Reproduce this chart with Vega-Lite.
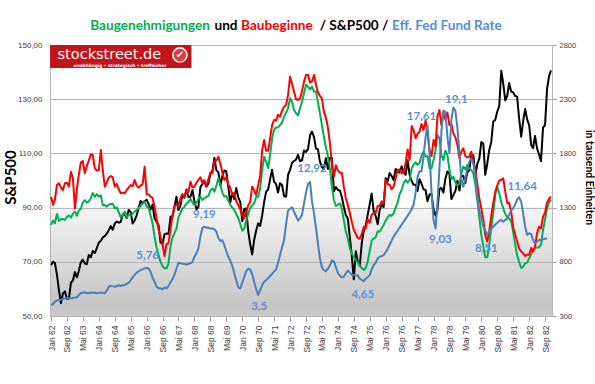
{
"$schema":"https://vega.github.io/schema/vega-lite/v6.json",
"width":502,"height":271,
"autosize":{"type":"none"},
"padding":{"left":50,"top":45,"right":43,"bottom":68},
"background":"white",
"view":{"stroke":null,"fill":{"gradient":"linear","x1":0,"y1":0,"x2":0,"y2":1,"stops":[{"offset":0,"color":"#ffffff"},{"offset":0.597,"color":"#ffffff"},{"offset":0.6,"color":"#f5f5f5"},{"offset":0.96,"color":"#c4c4c4"},{"offset":1,"color":"#cbcbcb"}]}},
"config":{"view":{"stroke":null}},
"datasets":{
"labels":[{"d":"1966-01-16","r":6.75,"t":"5,76"},{"d":"1968-06-01","r":10.17,"t":"9,19"},{"d":"1970-09-16","r":2.5,"t":"3,5"},{"d":"1972-12-01","r":14.0,"t":"12,92"},{"d":"1975-01-16","r":3.5,"t":"4,65"},{"d":"1977-07-01","r":18.33,"t":"17,61"},{"d":"1978-12-16","r":19.75,"t":"19,1"},{"d":"1978-04-16","r":8.08,"t":"9,03"},{"d":"1980-03-16","r":7.33,"t":"8,51"},{"d":"1981-09-16","r":12.5,"t":"11,64"}],
"titles":[{"d":"1966-02-22","r":25.58,"t":"Baugenehmigungen"},{"d":"1969-04-27","r":25.58,"t":"und"},{"d":"1971-06-14","r":25.58,"t":"Baubeginne"},{"d":"1974-09-04","r":25.58,"t":"/ S&P500 /"},{"d":"1978-07-25","r":25.58,"t":"Eff. Fed Fund Rate"}]
},
"data":{"values":[
{"d":"1962-01-01","sp":68.84,"hs":1401,"bp":1140,"ff":2.67},
{"d":"1962-02-01","sp":69.96,"hs":1324,"bp":1180,"ff":2.75},
{"d":"1962-03-01","sp":69.55,"hs":1376,"bp":1155,"ff":2.94},
{"d":"1962-04-01","sp":65.24,"hs":1508,"bp":1241,"ff":3.03},
{"d":"1962-05-01","sp":59.63,"hs":1524,"bp":1176,"ff":3.08},
{"d":"1962-06-01","sp":54.75,"hs":1487,"bp":1192,"ff":3.11},
{"d":"1962-07-01","sp":58.23,"hs":1462,"bp":1195,"ff":3.17},
{"d":"1962-08-01","sp":59.12,"hs":1524,"bp":1186,"ff":3.22},
{"d":"1962-09-01","sp":56.27,"hs":1530,"bp":1216,"ff":3.22},
{"d":"1962-10-01","sp":56.52,"hs":1493,"bp":1229,"ff":3.22},
{"d":"1962-11-01","sp":62.26,"hs":1631,"bp":1207,"ff":3.22},
{"d":"1962-12-01","sp":63.10,"hs":1570,"bp":1244,"ff":3.25},
{"d":"1963-01-01","sp":66.20,"hs":1293,"bp":1263,"ff":3.28},
{"d":"1963-02-01","sp":64.29,"hs":1478,"bp":1223,"ff":3.31},
{"d":"1963-03-01","sp":66.57,"hs":1601,"bp":1272,"ff":3.5},
{"d":"1963-04-01","sp":69.80,"hs":1715,"bp":1290,"ff":3.67},
{"d":"1963-05-01","sp":70.80,"hs":1730,"bp":1346,"ff":3.69},
{"d":"1963-06-01","sp":69.37,"hs":1616,"bp":1370,"ff":3.72},
{"d":"1963-07-01","sp":69.13,"hs":1684,"bp":1346,"ff":3.67},
{"d":"1963-08-01","sp":72.50,"hs":1733,"bp":1358,"ff":3.64},
{"d":"1963-09-01","sp":71.70,"hs":1791,"bp":1386,"ff":3.69},
{"d":"1963-10-01","sp":74.01,"hs":1785,"bp":1435,"ff":3.69},
{"d":"1963-11-01","sp":73.23,"hs":1662,"bp":1401,"ff":3.69},
{"d":"1963-12-01","sp":75.02,"hs":1641,"bp":1425,"ff":3.64},
{"d":"1964-01-01","sp":77.04,"hs":1647,"bp":1401,"ff":3.67},
{"d":"1964-02-01","sp":77.80,"hs":1831,"bp":1413,"ff":3.72},
{"d":"1964-03-01","sp":78.98,"hs":1647,"bp":1321,"ff":3.67},
{"d":"1964-04-01","sp":79.46,"hs":1493,"bp":1324,"ff":3.64},
{"d":"1964-05-01","sp":80.37,"hs":1530,"bp":1309,"ff":3.86},
{"d":"1964-06-01","sp":81.69,"hs":1576,"bp":1327,"ff":4.19},
{"d":"1964-07-01","sp":83.18,"hs":1592,"bp":1333,"ff":4.25},
{"d":"1964-08-01","sp":81.83,"hs":1579,"bp":1336,"ff":4.22},
{"d":"1964-09-01","sp":84.18,"hs":1493,"bp":1293,"ff":4.19},
{"d":"1964-10-01","sp":84.86,"hs":1518,"bp":1303,"ff":4.25},
{"d":"1964-11-01","sp":84.42,"hs":1469,"bp":1256,"ff":4.31},
{"d":"1964-12-01","sp":84.75,"hs":1432,"bp":1210,"ff":4.25},
{"d":"1965-01-01","sp":87.56,"hs":1438,"bp":1232,"ff":4.31},
{"d":"1965-02-01","sp":87.43,"hs":1432,"bp":1263,"ff":4.33},
{"d":"1965-03-01","sp":86.16,"hs":1462,"bp":1210,"ff":4.42},
{"d":"1965-04-01","sp":89.11,"hs":1484,"bp":1235,"ff":4.53},
{"d":"1965-05-01","sp":88.42,"hs":1508,"bp":1226,"ff":4.72},
{"d":"1965-06-01","sp":84.12,"hs":1499,"bp":1244,"ff":4.97},
{"d":"1965-07-01","sp":85.25,"hs":1555,"bp":1263,"ff":5.17},
{"d":"1965-08-01","sp":87.17,"hs":1503,"bp":1278,"ff":5.36},
{"d":"1965-09-01","sp":89.96,"hs":1484,"bp":1296,"ff":5.47},
{"d":"1965-10-01","sp":92.42,"hs":1503,"bp":1315,"ff":5.58},
{"d":"1965-11-01","sp":91.61,"hs":1518,"bp":1336,"ff":5.64},
{"d":"1965-12-01","sp":92.43,"hs":1678,"bp":1355,"ff":5.72},
{"d":"1966-01-01","sp":92.88,"hs":1422,"bp":1309,"ff":5.76},
{"d":"1966-02-01","sp":91.22,"hs":1422,"bp":1296,"ff":5.7},
{"d":"1966-03-01","sp":89.23,"hs":1401,"bp":1229,"ff":5.44},
{"d":"1966-04-01","sp":91.06,"hs":1389,"bp":1155,"ff":4.94},
{"d":"1966-05-01","sp":86.13,"hs":1309,"bp":1032,"ff":4.61},
{"d":"1966-06-01","sp":84.74,"hs":1201,"bp":934,"ff":4.19},
{"d":"1966-07-01","sp":83.60,"hs":1100,"bp":866,"ff":4.06},
{"d":"1966-08-01","sp":77.10,"hs":1026,"bp":798,"ff":4.06},
{"d":"1966-09-01","sp":76.56,"hs":955,"bp":761,"ff":3.97},
{"d":"1966-10-01","sp":80.20,"hs":853,"bp":740,"ff":4.14},
{"d":"1966-11-01","sp":80.45,"hs":964,"bp":740,"ff":4.06},
{"d":"1966-12-01","sp":80.33,"hs":970,"bp":786,"ff":4.25},
{"d":"1967-01-01","sp":86.61,"hs":1109,"bp":946,"ff":4.56},
{"d":"1967-02-01","sp":86.78,"hs":1232,"bp":1026,"ff":4.83},
{"d":"1967-03-01","sp":90.20,"hs":1309,"bp":1063,"ff":5.17},
{"d":"1967-04-01","sp":94.01,"hs":1333,"bp":1106,"ff":5.69},
{"d":"1967-05-01","sp":89.08,"hs":1309,"bp":1210,"ff":6.17},
{"d":"1967-06-01","sp":90.64,"hs":1386,"bp":1253,"ff":6.17},
{"d":"1967-07-01","sp":94.75,"hs":1425,"bp":1290,"ff":6.11},
{"d":"1967-08-01","sp":93.64,"hs":1401,"bp":1309,"ff":6.08},
{"d":"1967-09-01","sp":96.71,"hs":1456,"bp":1339,"ff":6.03},
{"d":"1967-10-01","sp":93.90,"hs":1447,"bp":1349,"ff":6.11},
{"d":"1967-11-01","sp":94.00,"hs":1539,"bp":1382,"ff":6.14},
{"d":"1967-12-01","sp":96.47,"hs":1487,"bp":1346,"ff":6.25},
{"d":"1968-01-01","sp":92.24,"hs":1493,"bp":1324,"ff":6.69},
{"d":"1968-02-01","sp":89.36,"hs":1530,"bp":1346,"ff":6.97},
{"d":"1968-03-01","sp":90.20,"hs":1555,"bp":1376,"ff":7.39},
{"d":"1968-04-01","sp":97.59,"hs":1579,"bp":1401,"ff":8.36},
{"d":"1968-05-01","sp":98.68,"hs":1530,"bp":1370,"ff":9.1},
{"d":"1968-06-01","sp":99.58,"hs":1555,"bp":1386,"ff":9.19},
{"d":"1968-07-01","sp":97.74,"hs":1499,"bp":1401,"ff":9.1},
{"d":"1968-08-01","sp":98.86,"hs":1561,"bp":1407,"ff":9.12},
{"d":"1968-09-01","sp":102.67,"hs":1622,"bp":1456,"ff":9.02},
{"d":"1968-10-01","sp":103.41,"hs":1616,"bp":1478,"ff":9.06},
{"d":"1968-11-01","sp":108.37,"hs":1724,"bp":1447,"ff":8.97},
{"d":"1968-12-01","sp":103.86,"hs":1733,"bp":1502,"ff":8.78},
{"d":"1969-01-01","sp":103.01,"hs":1770,"bp":1570,"ff":8.25},
{"d":"1969-02-01","sp":98.13,"hs":1702,"bp":1505,"ff":8.0},
{"d":"1969-03-01","sp":101.51,"hs":1628,"bp":1441,"ff":8.06},
{"d":"1969-04-01","sp":103.69,"hs":1555,"bp":1401,"ff":7.67},
{"d":"1969-05-01","sp":103.46,"hs":1579,"bp":1407,"ff":7.17},
{"d":"1969-06-01","sp":97.71,"hs":1512,"bp":1364,"ff":6.69},
{"d":"1969-07-01","sp":91.83,"hs":1484,"bp":1327,"ff":6.36},
{"d":"1969-08-01","sp":95.51,"hs":1413,"bp":1299,"ff":5.94},
{"d":"1969-09-01","sp":93.12,"hs":1432,"bp":1278,"ff":5.31},
{"d":"1969-10-01","sp":97.24,"hs":1358,"bp":1241,"ff":4.69},
{"d":"1969-11-01","sp":93.81,"hs":1321,"bp":1204,"ff":4.14},
{"d":"1969-12-01","sp":92.06,"hs":1284,"bp":1149,"ff":4.06},
{"d":"1970-01-01","sp":85.02,"hs":1223,"bp":1087,"ff":4.53},
{"d":"1970-02-01","sp":89.50,"hs":1201,"bp":1109,"ff":5.03},
{"d":"1970-03-01","sp":89.63,"hs":1256,"bp":1180,"ff":5.47},
{"d":"1970-04-01","sp":81.52,"hs":1321,"bp":1241,"ff":5.67},
{"d":"1970-05-01","sp":76.55,"hs":1349,"bp":1296,"ff":5.64},
{"d":"1970-06-01","sp":72.72,"hs":1493,"bp":1321,"ff":5.25},
{"d":"1970-07-01","sp":78.05,"hs":1462,"bp":1339,"ff":4.61},
{"d":"1970-08-01","sp":81.52,"hs":1416,"bp":1398,"ff":4.0},
{"d":"1970-09-01","sp":84.21,"hs":1508,"bp":1401,"ff":3.5},
{"d":"1970-10-01","sp":83.25,"hs":1592,"bp":1478,"ff":3.9},
{"d":"1970-11-01","sp":87.20,"hs":1831,"bp":1647,"ff":4.33},
{"d":"1970-12-01","sp":92.15,"hs":1924,"bp":1770,"ff":4.61},
{"d":"1971-01-01","sp":95.88,"hs":1825,"bp":1721,"ff":4.75},
{"d":"1971-02-01","sp":96.75,"hs":1825,"bp":1665,"ff":4.92},
{"d":"1971-03-01","sp":100.31,"hs":1936,"bp":1785,"ff":5.08},
{"d":"1971-04-01","sp":103.95,"hs":2059,"bp":1936,"ff":5.25},
{"d":"1971-05-01","sp":99.63,"hs":2108,"bp":2016,"ff":5.44},
{"d":"1971-06-01","sp":98.70,"hs":2102,"bp":2040,"ff":5.64},
{"d":"1971-07-01","sp":95.58,"hs":2157,"bp":2040,"ff":6.19},
{"d":"1971-08-01","sp":99.03,"hs":2139,"bp":2062,"ff":6.83},
{"d":"1971-09-01","sp":98.34,"hs":2194,"bp":2084,"ff":7.47},
{"d":"1971-10-01","sp":94.23,"hs":2231,"bp":2139,"ff":8.08},
{"d":"1971-11-01","sp":93.99,"hs":2246,"bp":2176,"ff":9.42},
{"d":"1971-12-01","sp":102.09,"hs":2339,"bp":2216,"ff":10.53},
{"d":"1972-01-01","sp":103.94,"hs":2508,"bp":2308,"ff":10.69},
{"d":"1972-02-01","sp":106.57,"hs":2440,"bp":2274,"ff":10.81},
{"d":"1972-03-01","sp":107.20,"hs":2370,"bp":2200,"ff":10.44},
{"d":"1972-04-01","sp":107.67,"hs":2299,"bp":2170,"ff":10.08},
{"d":"1972-05-01","sp":109.53,"hs":2293,"bp":2151,"ff":9.69},
{"d":"1972-06-01","sp":107.14,"hs":2305,"bp":2216,"ff":9.89},
{"d":"1972-07-01","sp":107.39,"hs":2373,"bp":2277,"ff":10.19},
{"d":"1972-08-01","sp":111.09,"hs":2462,"bp":2354,"ff":11.14},
{"d":"1972-09-01","sp":110.55,"hs":2526,"bp":2434,"ff":12.03},
{"d":"1972-10-01","sp":111.58,"hs":2526,"bp":2416,"ff":12.75},
{"d":"1972-11-01","sp":116.67,"hs":2453,"bp":2391,"ff":12.92},
{"d":"1972-12-01","sp":118.05,"hs":2465,"bp":2416,"ff":11.28},
{"d":"1973-01-01","sp":116.03,"hs":2523,"bp":2370,"ff":10.31},
{"d":"1973-02-01","sp":111.68,"hs":2431,"bp":2370,"ff":9.06},
{"d":"1973-03-01","sp":111.52,"hs":2366,"bp":2277,"ff":7.81},
{"d":"1973-04-01","sp":106.97,"hs":2330,"bp":2170,"ff":6.56},
{"d":"1973-05-01","sp":104.95,"hs":2305,"bp":2062,"ff":5.81},
{"d":"1973-06-01","sp":104.26,"hs":2185,"bp":1954,"ff":5.58},
{"d":"1973-07-01","sp":108.22,"hs":2130,"bp":1856,"ff":5.47},
{"d":"1973-08-01","sp":104.25,"hs":2040,"bp":1776,"ff":5.69},
{"d":"1973-09-01","sp":108.43,"hs":1893,"bp":1662,"ff":5.97},
{"d":"1973-10-01","sp":108.29,"hs":1702,"bp":1493,"ff":6.39},
{"d":"1973-11-01","sp":95.96,"hs":1585,"bp":1370,"ff":6.28},
{"d":"1973-12-01","sp":97.55,"hs":1690,"bp":1315,"ff":5.83},
{"d":"1974-01-01","sp":96.57,"hs":1641,"bp":1327,"ff":5.31},
{"d":"1974-02-01","sp":96.22,"hs":1622,"bp":1339,"ff":5.11},
{"d":"1974-03-01","sp":93.98,"hs":1622,"bp":1293,"ff":4.97},
{"d":"1974-04-01","sp":90.31,"hs":1493,"bp":1186,"ff":5.03},
{"d":"1974-05-01","sp":87.28,"hs":1389,"bp":1081,"ff":5.31},
{"d":"1974-06-01","sp":86.00,"hs":1327,"bp":1013,"ff":5.53},
{"d":"1974-07-01","sp":79.31,"hs":1253,"bp":927,"ff":5.36},
{"d":"1974-08-01","sp":72.15,"hs":1167,"bp":872,"ff":5.19},
{"d":"1974-09-01","sp":63.54,"hs":1093,"bp":847,"ff":5.17},
{"d":"1974-10-01","sp":73.90,"hs":1057,"bp":814,"ff":5.11},
{"d":"1974-11-01","sp":69.97,"hs":1020,"bp":795,"ff":5.14},
{"d":"1974-12-01","sp":68.56,"hs":1013,"bp":761,"ff":4.86},
{"d":"1975-01-01","sp":76.98,"hs":1057,"bp":743,"ff":4.75},
{"d":"1975-02-01","sp":81.59,"hs":1124,"bp":724,"ff":4.65},
{"d":"1975-03-01","sp":83.36,"hs":1106,"bp":743,"ff":4.86},
{"d":"1975-04-01","sp":87.30,"hs":1192,"bp":798,"ff":5.0},
{"d":"1975-05-01","sp":91.15,"hs":1161,"bp":897,"ff":5.14},
{"d":"1975-06-01","sp":95.19,"hs":1232,"bp":995,"ff":5.64},
{"d":"1975-07-01","sp":88.75,"hs":1250,"bp":1015,"ff":6.0},
{"d":"1975-08-01","sp":86.88,"hs":1253,"bp":1026,"ff":6.19},
{"d":"1975-09-01","sp":83.87,"hs":1315,"bp":1081,"ff":6.56},
{"d":"1975-10-01","sp":89.04,"hs":1318,"bp":1078,"ff":6.67},
{"d":"1975-11-01","sp":91.24,"hs":1358,"bp":1109,"ff":6.75},
{"d":"1975-12-01","sp":90.19,"hs":1339,"bp":1140,"ff":6.83},
{"d":"1976-01-01","sp":100.86,"hs":1555,"bp":1180,"ff":7.08},
{"d":"1976-02-01","sp":99.71,"hs":1518,"bp":1210,"ff":7.36},
{"d":"1976-03-01","sp":102.77,"hs":1512,"bp":1232,"ff":7.69},
{"d":"1976-04-01","sp":101.64,"hs":1469,"bp":1223,"ff":8.03},
{"d":"1976-05-01","sp":100.18,"hs":1493,"bp":1247,"ff":8.36},
{"d":"1976-06-01","sp":104.28,"hs":1570,"bp":1299,"ff":8.61},
{"d":"1976-07-01","sp":103.44,"hs":1647,"bp":1346,"ff":8.86},
{"d":"1976-08-01","sp":102.91,"hs":1653,"bp":1425,"ff":9.11},
{"d":"1976-09-01","sp":105.24,"hs":1616,"bp":1462,"ff":9.36},
{"d":"1976-10-01","sp":102.90,"hs":1616,"bp":1524,"ff":9.61},
{"d":"1976-11-01","sp":102.10,"hs":1715,"bp":1555,"ff":9.86},
{"d":"1976-12-01","sp":107.46,"hs":1837,"bp":1530,"ff":10.11},
{"d":"1977-01-01","sp":102.03,"hs":1739,"bp":1555,"ff":10.36},
{"d":"1977-02-01","sp":99.82,"hs":2053,"bp":1662,"ff":10.67},
{"d":"1977-03-01","sp":98.42,"hs":2016,"bp":1693,"ff":11.0},
{"d":"1977-04-01","sp":98.44,"hs":1939,"bp":1718,"ff":11.97},
{"d":"1977-05-01","sp":96.12,"hs":1979,"bp":1693,"ff":13.31},
{"d":"1977-06-01","sp":100.48,"hs":2000,"bp":1715,"ff":13.81},
{"d":"1977-07-01","sp":98.85,"hs":2071,"bp":1776,"ff":13.81},
{"d":"1977-08-01","sp":96.77,"hs":2016,"bp":1816,"ff":15.03},
{"d":"1977-09-01","sp":96.53,"hs":2102,"bp":1770,"ff":16.64},
{"d":"1977-10-01","sp":92.34,"hs":1985,"bp":1776,"ff":17.61},
{"d":"1977-11-01","sp":94.83,"hs":1831,"bp":1662,"ff":15.31},
{"d":"1977-12-01","sp":95.10,"hs":1776,"bp":1662,"ff":12.11},
{"d":"1978-01-01","sp":89.25,"hs":1924,"bp":1739,"ff":9.75},
{"d":"1978-02-01","sp":87.04,"hs":1862,"bp":1831,"ff":9.03},
{"d":"1978-03-01","sp":89.21,"hs":2139,"bp":1970,"ff":11.14},
{"d":"1978-04-01","sp":96.83,"hs":2200,"bp":1939,"ff":14.06},
{"d":"1978-05-01","sp":97.24,"hs":2062,"bp":1785,"ff":17.11},
{"d":"1978-06-01","sp":95.53,"hs":2170,"bp":1739,"ff":18.86},
{"d":"1978-07-01","sp":100.68,"hs":2114,"bp":1825,"ff":18.78},
{"d":"1978-08-01","sp":103.29,"hs":2176,"bp":1785,"ff":16.69},
{"d":"1978-09-01","sp":102.54,"hs":2062,"bp":1647,"ff":15.31},
{"d":"1978-10-01","sp":93.15,"hs":2071,"bp":1561,"ff":18.14},
{"d":"1978-11-01","sp":94.70,"hs":1985,"bp":1585,"ff":19.1},
{"d":"1978-12-01","sp":96.11,"hs":1948,"bp":1530,"ff":18.86},
{"d":"1979-01-01","sp":99.93,"hs":1878,"bp":1503,"ff":17.39},
{"d":"1979-02-01","sp":96.28,"hs":1755,"bp":1518,"ff":15.31},
{"d":"1979-03-01","sp":101.59,"hs":1816,"bp":1610,"ff":13.22},
{"d":"1979-04-01","sp":101.76,"hs":1847,"bp":1678,"ff":12.53},
{"d":"1979-05-01","sp":99.08,"hs":1776,"bp":1653,"ff":13.14},
{"d":"1979-06-01","sp":102.91,"hs":1764,"bp":1693,"ff":14.06},
{"d":"1979-07-01","sp":103.81,"hs":1770,"bp":1659,"ff":14.58},
{"d":"1979-08-01","sp":109.32,"hs":1816,"bp":1647,"ff":14.86},
{"d":"1979-09-01","sp":109.32,"hs":1708,"bp":1616,"ff":14.47},
{"d":"1979-10-01","sp":101.82,"hs":1653,"bp":1512,"ff":13.5},
{"d":"1979-11-01","sp":106.16,"hs":1524,"bp":1364,"ff":11.83},
{"d":"1979-12-01","sp":107.94,"hs":1386,"bp":1216,"ff":10.53},
{"d":"1980-01-01","sp":114.16,"hs":1293,"bp":1047,"ff":9.97},
{"d":"1980-02-01","sp":113.66,"hs":1186,"bp":940,"ff":9.19},
{"d":"1980-03-01","sp":102.09,"hs":1047,"bp":841,"ff":8.86},
{"d":"1980-04-01","sp":106.29,"hs":986,"bp":841,"ff":8.51},
{"d":"1980-05-01","sp":111.24,"hs":1078,"bp":955,"ff":8.81},
{"d":"1980-06-01","sp":114.24,"hs":1223,"bp":1109,"ff":9.0},
{"d":"1980-07-01","sp":121.67,"hs":1339,"bp":1247,"ff":9.19},
{"d":"1980-08-01","sp":122.38,"hs":1447,"bp":1416,"ff":9.36},
{"d":"1980-09-01","sp":125.46,"hs":1505,"bp":1493,"ff":9.53},
{"d":"1980-10-01","sp":127.47,"hs":1548,"bp":1432,"ff":9.67},
{"d":"1980-11-01","sp":140.52,"hs":1557,"bp":1349,"ff":9.75},
{"d":"1980-12-01","sp":135.76,"hs":1570,"bp":1293,"ff":9.61},
{"d":"1981-01-01","sp":129.55,"hs":1447,"bp":1241,"ff":9.75},
{"d":"1981-02-01","sp":131.27,"hs":1339,"bp":1210,"ff":9.92},
{"d":"1981-03-01","sp":136.00,"hs":1345,"bp":1201,"ff":10.19},
{"d":"1981-04-01","sp":132.81,"hs":1263,"bp":1176,"ff":10.53},
{"d":"1981-05-01","sp":132.59,"hs":1124,"bp":1078,"ff":10.72},
{"d":"1981-06-01","sp":131.21,"hs":1050,"bp":958,"ff":11.03},
{"d":"1981-07-01","sp":130.92,"hs":989,"bp":860,"ff":11.47},
{"d":"1981-08-01","sp":122.79,"hs":921,"bp":798,"ff":11.64},
{"d":"1981-09-01","sp":116.18,"hs":897,"bp":743,"ff":11.28},
{"d":"1981-10-01","sp":121.89,"hs":878,"bp":755,"ff":10.31},
{"d":"1981-11-01","sp":126.35,"hs":853,"bp":786,"ff":9.19},
{"d":"1981-12-01","sp":122.55,"hs":866,"bp":792,"ff":8.53},
{"d":"1982-01-01","sp":120.40,"hs":866,"bp":832,"ff":8.64},
{"d":"1982-02-01","sp":113.11,"hs":927,"bp":872,"ff":8.58},
{"d":"1982-03-01","sp":111.96,"hs":893,"bp":909,"ff":8.08},
{"d":"1982-04-01","sp":116.44,"hs":940,"bp":927,"ff":7.81},
{"d":"1982-05-01","sp":111.88,"hs":1063,"bp":933,"ff":7.94},
{"d":"1982-06-01","sp":109.61,"hs":1124,"bp":933,"ff":8.08},
{"d":"1982-07-01","sp":107.09,"hs":1109,"bp":958,"ff":8.08},
{"d":"1982-08-01","sp":119.51,"hs":1216,"bp":1093,"ff":8.14},
{"d":"1982-09-01","sp":120.42,"hs":1253,"bp":1192,"ff":8.19},
{"d":"1982-10-01","sp":133.71,"hs":1345,"bp":1293,"ff":8.2},
{"d":"1982-11-01","sp":138.54,"hs":1382,"bp":1346},
{"d":"1982-12-01","sp":140.64,"hs":1401,"bp":1376}
]},
"encoding":{"x":{"field":"d","type":"temporal","scale":{"type":"utc","nice":false,"domain":[{"year":1961,"month":12,"date":16,"utc":true},{"year":1982,"month":12,"date":16,"utc":true}]},
"axis":{"title":null,"grid":false,"values":[{"year":1962,"month":1,"date":1,"utc":true},{"year":1962,"month":9,"date":1,"utc":true},{"year":1963,"month":5,"date":1,"utc":true},{"year":1964,"month":1,"date":1,"utc":true},{"year":1964,"month":9,"date":1,"utc":true},{"year":1965,"month":5,"date":1,"utc":true},{"year":1966,"month":1,"date":1,"utc":true},{"year":1966,"month":9,"date":1,"utc":true},{"year":1967,"month":5,"date":1,"utc":true},{"year":1968,"month":1,"date":1,"utc":true},{"year":1968,"month":9,"date":1,"utc":true},{"year":1969,"month":5,"date":1,"utc":true},{"year":1970,"month":1,"date":1,"utc":true},{"year":1970,"month":9,"date":1,"utc":true},{"year":1971,"month":5,"date":1,"utc":true},{"year":1972,"month":1,"date":1,"utc":true},{"year":1972,"month":9,"date":1,"utc":true},{"year":1973,"month":5,"date":1,"utc":true},{"year":1974,"month":1,"date":1,"utc":true},{"year":1974,"month":9,"date":1,"utc":true},{"year":1975,"month":5,"date":1,"utc":true},{"year":1976,"month":1,"date":1,"utc":true},{"year":1976,"month":9,"date":1,"utc":true},{"year":1977,"month":5,"date":1,"utc":true},{"year":1978,"month":1,"date":1,"utc":true},{"year":1978,"month":9,"date":1,"utc":true},{"year":1979,"month":5,"date":1,"utc":true},{"year":1980,"month":1,"date":1,"utc":true},{"year":1980,"month":9,"date":1,"utc":true},{"year":1981,"month":5,"date":1,"utc":true},{"year":1982,"month":1,"date":1,"utc":true},{"year":1982,"month":9,"date":1,"utc":true}],
"labelExpr":"replace(utcFormat(datum.value,'%b %y'),'May','Mai')","labelAngle":270,"labelFont":"Liberation Sans","labelFontSize":8.5,"labelColor":"#404040","labelPadding":4,"tickSize":5,"tickColor":"#a0a0a0","domainColor":"#b5b5b5","labelOverlap":false,"labelFlush":false}}},
"layer":[
{"layer":[
{"mark":{"type":"line","color":"#000000","strokeWidth":2,"strokeJoin":"round"},
"encoding":{"y":{"field":"sp","type":"quantitative","scale":{"domain":[50,150],"nice":false,"zero":false},
"axis":{"orient":"left","values":[50,70,90,110,130,150],"labelExpr":"replace(format(datum.value,'.2f'),'.',',')","grid":true,"gridColor":"#b5b5b5","ticks":false,"domainColor":"#b5b5b5","labelFont":"Liberation Sans","labelFontSize":8,"labelColor":"#404040","labelPadding":8,"title":"S&P500","titleFont":"Lato","titleFontSize":15,"titleFontWeight":"bold","titleColor":"#000000","titleBaseline":"middle","titleX":-40,"titleY":132}}}}
]},
{"layer":[
{"mark":{"type":"line","color":"#00b050","strokeWidth":2,"strokeJoin":"round"},
"encoding":{"y":{"field":"bp","type":"quantitative","scale":{"domain":[300,2800],"nice":false,"zero":false},
"axis":{"orient":"right","values":[300,800,1300,1800,2300,2800],"format":"d","grid":false,"ticks":true,"tickSize":4,"tickColor":"#a0a0a0","domainColor":"#b5b5b5","labelFont":"Liberation Sans","labelFontSize":7.5,"labelColor":"#404040","labelPadding":3,"title":"in tausend Einheiten","titleFont":"Lato","titleFontSize":10.5,"titleFontWeight":"bold","titleColor":"#000000","titleBaseline":"middle","titleX":36,"titleY":132}}}},
{"mark":{"type":"line","color":"#ff0000","strokeWidth":2,"strokeJoin":"round"},
"encoding":{"y":{"field":"hs","type":"quantitative","scale":{"domain":[300,2800],"nice":false,"zero":false},
"axis":{"orient":"right","values":[300,800,1300,1800,2300,2800],"format":"d","grid":false,"ticks":true,"tickSize":4,"tickColor":"#a0a0a0","domainColor":"#b5b5b5","labelFont":"Liberation Sans","labelFontSize":7.5,"labelColor":"#404040","labelPadding":3,"title":"in tausend Einheiten","titleFont":"Lato","titleFontSize":10.5,"titleFontWeight":"bold","titleColor":"#000000","titleBaseline":"middle","titleX":36,"titleY":132}}}}
]},
{"layer":[
{"mark":{"type":"line","color":"#4a7ebb","strokeWidth":2,"strokeJoin":"round"},
"encoding":{"y":{"field":"ff","type":"quantitative","scale":{"domain":[1.75,24.333],"nice":false,"zero":false},"axis":null}}},
{"data":{"name":"labels"},"mark":{"type":"text","color":"#5a8fd6","font":"Lato","fontSize":11.5,"fontWeight":"bold","baseline":"middle","align":"center"},
"encoding":{"y":{"field":"r","type":"quantitative","scale":{"domain":[1.75,24.333],"nice":false,"zero":false},"axis":null},"text":{"field":"t"}}},
{"data":{"values":[{"d":"1961-12-17","d2":"1967-11-16","r":22.42,"r2":24.333}]},"mark":{"type":"rect","color":"#c3131b"},
"encoding":{"x2":{"field":"d2"},"y":{"field":"r","type":"quantitative","scale":{"domain":[1.75,24.333],"nice":false,"zero":false},"axis":null},"y2":{"field":"r2"}}},
{"data":{"values":[{"d":"1964-06-10","r":23.17,"t":"stockstreet.de"}]},"mark":{"type":"text","color":"#ffffff","font":"DejaVu Sans","fontSize":14.5,"align":"center","baseline":"alphabetic"},
"encoding":{"y":{"field":"r","type":"quantitative","scale":{"domain":[1.75,24.333],"nice":false,"zero":false},"axis":null},"text":{"field":"t"}}},
{"data":{"values":[{"d":"1964-11-19","r":22.52,"t":"unabhängig • strategisch • treffsicher"}]},"mark":{"type":"text","color":"#ffffff","font":"DejaVu Sans","fontSize":4.3,"fontWeight":"bold","align":"center","baseline":"alphabetic"},
"encoding":{"y":{"field":"r","type":"quantitative","scale":{"domain":[1.75,24.333],"nice":false,"zero":false},"axis":null},"text":{"field":"t"}}},
{"data":{"values":[{"d":"1967-05-24","r":23.5}]},"mark":{"type":"point","shape":"circle","filled":true,"fill":"#e03a3a","stroke":"#ffffff","strokeWidth":1.6,"size":200,"opacity":1},
"encoding":{"y":{"field":"r","type":"quantitative","scale":{"domain":[1.75,24.333],"nice":false,"zero":false},"axis":null}}},
{"data":{"values":[{"d":"1967-05-24","r":23.5,"t":"✔"}]},"mark":{"type":"text","color":"#ffffff","font":"DejaVu Sans","fontSize":10,"align":"center","baseline":"middle"},
"encoding":{"y":{"field":"r","type":"quantitative","scale":{"domain":[1.75,24.333],"nice":false,"zero":false},"axis":null},"text":{"field":"t"}}},
{"data":{"name":"titles"},"mark":{"type":"text","font":"Lato","fontSize":13.6,"fontWeight":"bold","align":"center","baseline":"alphabetic"},
"encoding":{"y":{"field":"r","type":"quantitative","scale":{"domain":[1.75,24.333],"nice":false,"zero":false},"axis":null},"text":{"field":"t"},
"color":{"field":"t","type":"nominal","scale":{"domain":["Baugenehmigungen","und","Baubeginne","/ S&P500 /","Eff. Fed Fund Rate"],"range":["#00b050","#000000","#ff0000","#000000","#558ed5"]},"legend":null}}}
]}
],
"resolve":{"scale":{"y":"independent"},"axis":{"y":"independent"}}
}
